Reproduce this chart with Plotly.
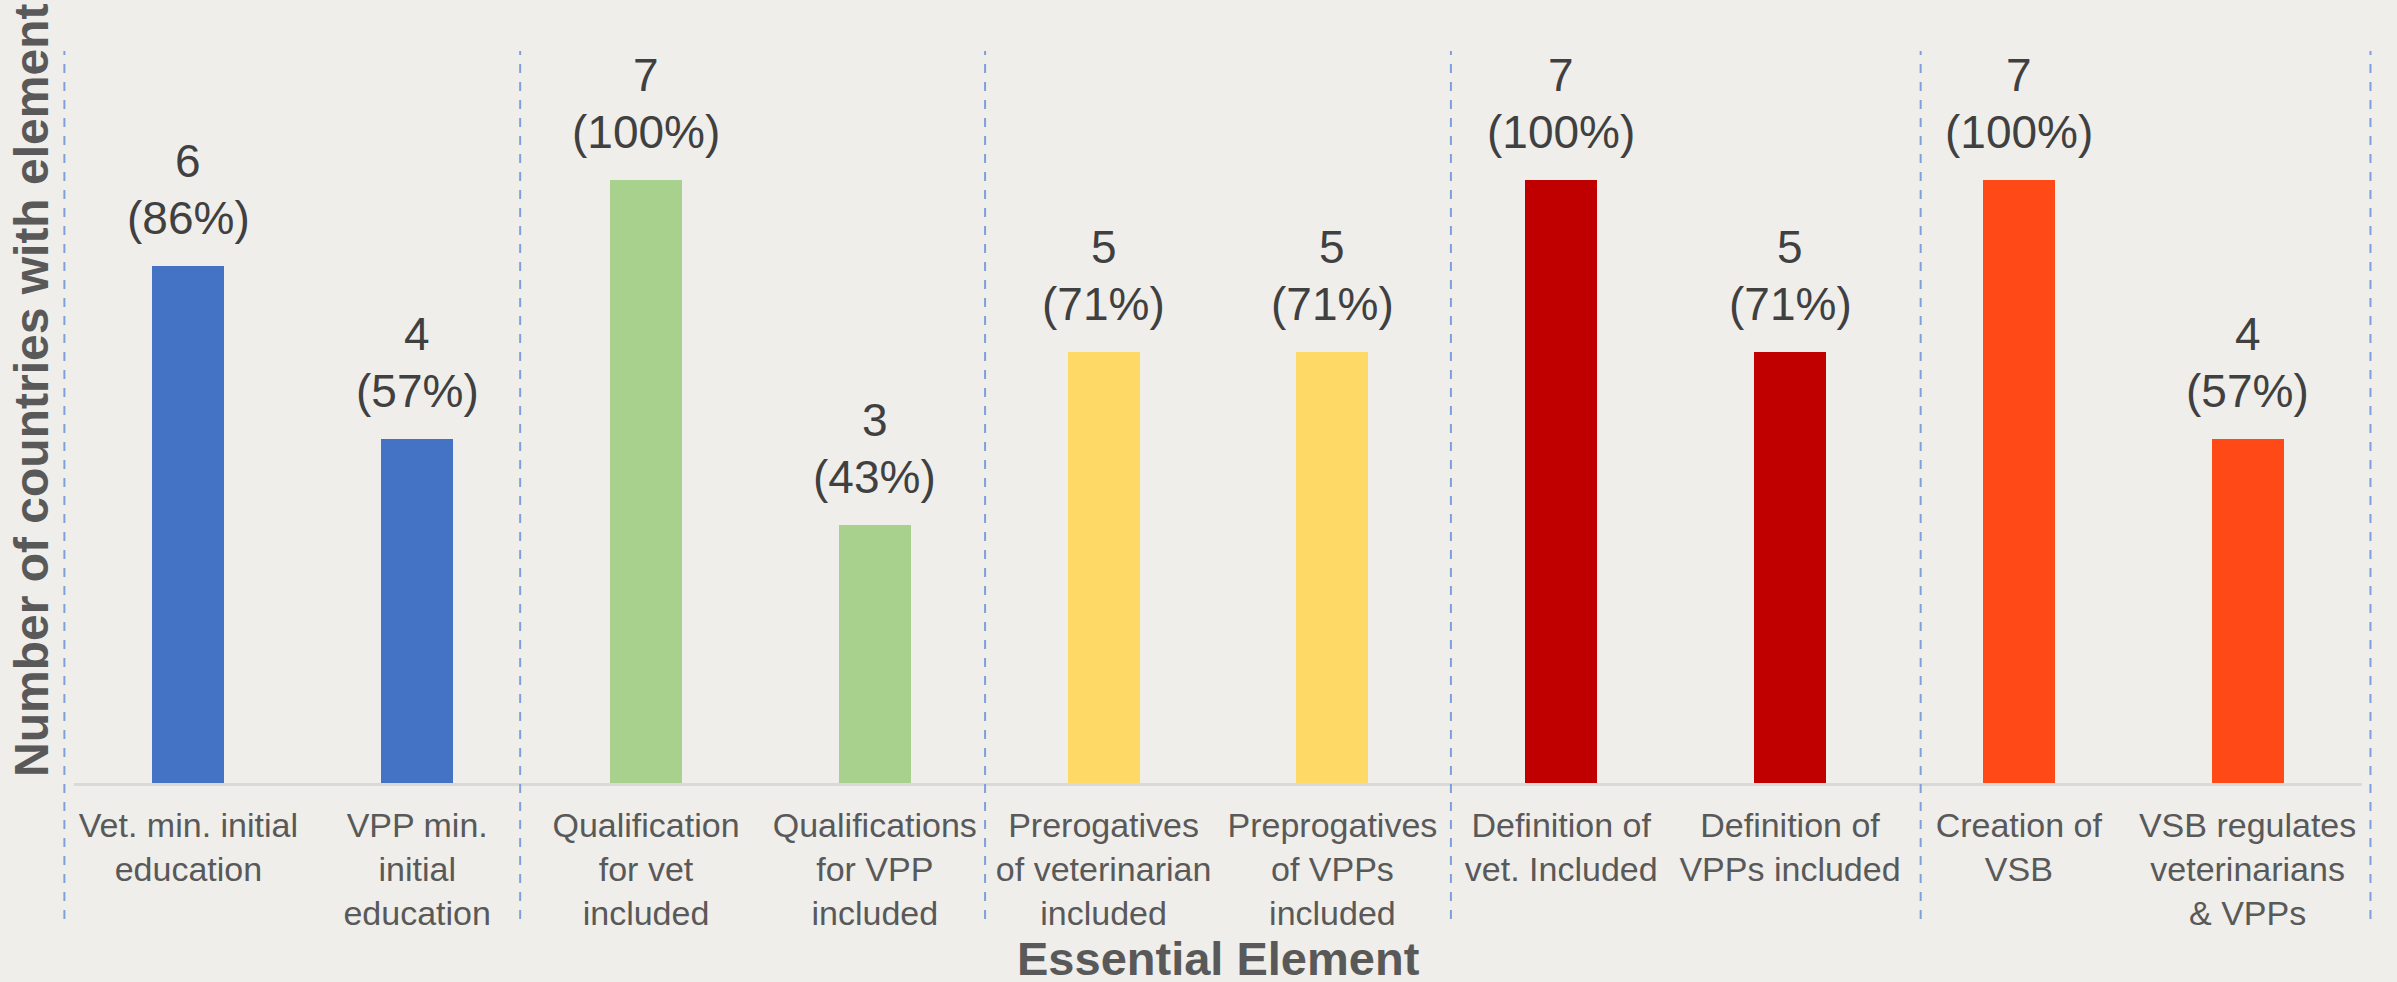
import plotly.graph_objects as go

categories = [
    "Vet. min. initial<br>education",
    "VPP min.<br>initial<br>education",
    "Qualification<br>for vet<br>included",
    "Qualifications<br>for VPP<br>included",
    "Prerogatives<br>of veterinarian<br>included",
    "Preprogatives<br>of VPPs<br>included",
    "Definition of<br>vet. Included",
    "Definition of<br>VPPs included",
    "Creation of<br>VSB",
    "VSB regulates<br>veterinarians<br>& VPPs",
]
counts = [6, 4, 7, 3, 5, 5, 7, 5, 7, 4]
percents = [86, 57, 100, 43, 71, 71, 100, 71, 100, 57]
bar_colors = ["#4472C4", "#4472C4", "#A9D18E", "#A9D18E", "#FFD966",
              "#FFD966", "#C00000", "#C00000", "#FF4A17", "#FF4A17"]
# group separators, in category-index units
separators = [-0.542, 1.450, 3.482, 5.518, 7.571, 9.537]

W, H = 2397, 982
ML, MR, MT, MB = 74, 35, 8, 199
FONT = "Liberation Sans, Arial, sans-serif"
BG = "#EFEEEA"
plot_h = H - MT - MB
plot_w = W - ML - MR
base_px = H - MB

xs = list(range(len(categories)))
fig = go.Figure()
fig.add_trace(go.Bar(
    x=xs, y=counts, marker=dict(color=bar_colors, line=dict(width=0)),
    width=0.315, hoverinfo="skip",
))

lab_font = dict(family=FONT, size=46, color="#404040")
for xi, c, p in zip(xs, counts, percents):
    fig.add_annotation(
        x=xi, y=c, xref="x", yref="y", text=f"({p}%)",
        showarrow=False, yanchor="middle", yshift=48, font=lab_font,
    )
    fig.add_annotation(
        x=xi, y=c, xref="x", yref="y", text=f"{c}",
        showarrow=False, yanchor="middle", yshift=105, font=lab_font,
    )

n = len(categories)
for s in separators:
    px = (s + 0.5) / n
    fig.add_shape(
        type="line", xref="paper", yref="paper",
        x0=px, x1=px, y0=(base_px - 919) / plot_h, y1=(base_px - 51) / plot_h,
        line=dict(color="#7F9FDB", width=2, dash="dash"),
    )

fig.add_annotation(
    text="Number of countries with element", xref="paper", yref="paper",
    x=(32 - ML) / plot_w, y=(base_px - 391) / plot_h, textangle=-90,
    showarrow=False, xanchor="center", yanchor="middle",
    font=dict(family=FONT, size=48, color="#595959", weight="bold"),
)
fig.add_annotation(
    text="Essential Element", xref="paper", yref="paper",
    x=0.5, y=(base_px - 958) / plot_h, showarrow=False,
    xanchor="center", yanchor="middle",
    font=dict(family=FONT, size=47, color="#595959", weight="bold"),
)

fig.update_layout(
    width=W, height=H,
    margin=dict(l=ML, r=MR, t=MT, b=MB),
    paper_bgcolor=BG, plot_bgcolor=BG,
    showlegend=False,
    bargap=0,
    xaxis=dict(
        tickmode="array", tickvals=xs, ticktext=categories,
        range=[-0.5, n - 0.5], showgrid=False, zeroline=False,
        showline=True, linecolor="#D9D9D9", linewidth=3,
        ticks="", ticklabelstandoff=10,
        tickfont=dict(family=FONT, size=34, color="#595959"),
        fixedrange=True,
    ),
    yaxis=dict(
        range=[0, 9], visible=False, showgrid=False, zeroline=False,
        fixedrange=True,
    ),
)

fig.write_html(
    "out.html",
    config={"displayModeBar": False},
    post_script="document.body.style.margin='0px';document.body.style.background='" + BG + "';",
)
